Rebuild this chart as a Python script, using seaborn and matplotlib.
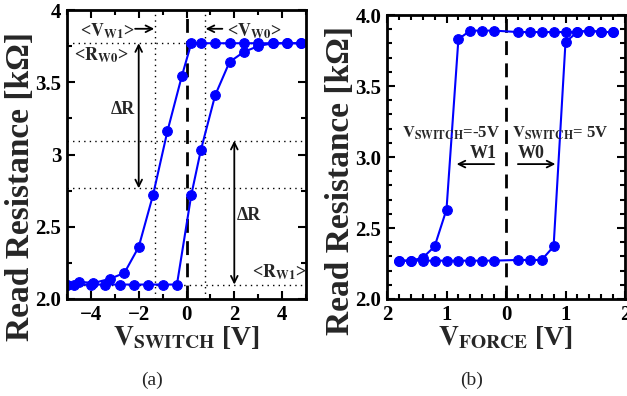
import numpy as np
import pandas as pd
import matplotlib
matplotlib.use("Agg")
import matplotlib.pyplot as plt
from matplotlib.ticker import MultipleLocator, FixedLocator, FixedFormatter, FuncFormatter
import seaborn as sns

# ---------------- data ----------------
# panel (a): read resistance vs switching voltage
a_w0_v = [-5.0, -4.7, -4.0, -3.4, -2.8, -2.2, -1.6, -1.0, -0.4, 0.2, 0.6, 1.2, 1.8, 2.4, 3.0, 3.6, 4.2, 4.8]
a_w0_r = [2.10, 2.10, 2.10, 2.10, 2.10, 2.10, 2.10, 2.10, 2.10, 2.72, 3.03, 3.41, 3.64, 3.71, 3.75, 3.77, 3.77, 3.77]
a_w1_v = [4.8, 4.2, 3.6, 3.0, 2.4, 1.8, 1.2, 0.6, 0.2, -0.2, -0.8, -1.4, -2.0, -2.6, -3.2, -3.9, -4.5, -5.0]
a_w1_r = [3.77, 3.77, 3.77, 3.77, 3.77, 3.77, 3.77, 3.77, 3.77, 3.54, 3.16, 2.72, 2.36, 2.18, 2.14, 2.11, 2.12, 2.10]

# reference levels in panel (a)
v_w1 = -1.3
v_w0 = 0.76
r_w0 = 3.77
r_w1 = 2.10
r_mid_hi = 3.095
r_mid_lo = 2.766

# panel (b): read resistance vs force voltage
b_s1_v = [1.8, 1.6, 1.4, 1.2, 1.0, 0.8, 0.6, 0.4, 0.2, -0.2, -0.4, -0.6, -0.8, -1.0, -1.2, -1.4, -1.6, -1.8]
b_s1_r = [3.88, 3.88, 3.89, 3.88, 3.88, 3.88, 3.88, 3.88, 3.88, 3.89, 3.89, 3.89, 3.83, 2.63, 2.37, 2.29, 2.27, 2.27]
b_s2_v = [-1.8, -1.6, -1.4, -1.2, -1.0, -0.8, -0.6, -0.4, -0.2, 0.2, 0.4, 0.6, 0.8, 1.0, 1.2, 1.4, 1.6, 1.8]
b_s2_r = [2.27, 2.27, 2.27, 2.27, 2.27, 2.27, 2.27, 2.27, 2.27, 2.275, 2.275, 2.275, 2.37, 3.81, 3.88, 3.89, 3.88, 3.88]

a_ytick_labels = ['2.0', '2.5', '3', '3.5', '4']

# ---------------- style ----------------
sns.set_style('ticks')
plt.rcParams['font.family'] = ['Liberation Serif', 'DejaVu Serif']
plt.rcParams['font.weight'] = 'bold'
plt.rcParams['mathtext.fontset'] = 'stix'

W, H = 627, 396
fig = plt.figure(figsize=(W / 100, H / 100), dpi=100)
axa = fig.add_axes([67 / W, 1 - 299 / H, 239 / W, 289 / H])
axb = fig.add_axes([387 / W, 1 - 299 / H, 238 / W, 284 / H])

blue = '#0000ff'
line_kw = dict(sort=False, estimator=None, color=blue, marker='o', markersize=7,
               markeredgecolor=blue, linewidth=1.5, legend=False)

def style_axes(ax):
    for s in ax.spines.values():
        s.set_linewidth(2)
        s.set_color('black')
    ax.tick_params(which='both', direction='in', top=True, right=True, width=1.5, colors='black')
    ax.tick_params(which='major', length=6, labelsize=15, pad=4)
    ax.tick_params(which='minor', length=3.5)
    for lab in ax.get_xticklabels() + ax.get_yticklabels():
        lab.set_fontweight('bold')

# ---------------- panel (a) ----------------
dfa0 = pd.DataFrame({'V': a_w0_v, 'R': a_w0_r})
dfa1 = pd.DataFrame({'V': a_w1_v, 'R': a_w1_r})
sns.lineplot(data=dfa0, x='V', y='R', ax=axa, **line_kw)
sns.lineplot(data=dfa1, x='V', y='R', ax=axa, **line_kw)

axa.set_xlim(-5, 5)
axa.set_ylim(2.0, 4.0)
axa.xaxis.set_major_locator(FixedLocator([-4, -2, 0, 2, 4]))
axa.xaxis.set_minor_locator(MultipleLocator(1))
axa.yaxis.set_major_locator(FixedLocator([2.0, 2.5, 3.0, 3.5, 4.0]))
axa.yaxis.set_major_formatter(FixedFormatter(a_ytick_labels))
axa.yaxis.set_minor_locator(MultipleLocator(0.25))

axa.axvline(0, color='black', lw=2, ls=(0, (5, 3)), zorder=1)
dot = dict(color='black', lw=1, ls=(0, (1, 3)), zorder=1)
axa.axvline(v_w1, **dot)
axa.axvline(v_w0, **dot)
for r in (r_w0, r_mid_hi, r_mid_lo, r_w1):
    axa.axhline(r, **dot)

arr = dict(arrowstyle='<->', color='black', lw=1.3, mutation_scale=12, shrinkA=0, shrinkB=0)
axa.annotate('', xy=(-2.0, r_w0), xytext=(-2.0, r_mid_lo), arrowprops=arr)
axa.annotate('', xy=(2.0, r_mid_hi), xytext=(2.0, r_w1), arrowprops=arr)
arr1 = dict(arrowstyle='->', color='black', lw=1.3, mutation_scale=12, shrinkA=0, shrinkB=0)
axa.annotate('', xy=(-1.35, 3.87), xytext=(-2.15, 3.87), arrowprops=arr1)
axa.annotate('', xy=(0.8, 3.87), xytext=(1.5, 3.87), arrowprops=arr1)

tk = dict(fontsize=13, fontweight='bold', ha='center', va='center')
axa.text(-3.33, 3.855, r'<$\mathbf{V_{W1}}$>', **tk)
axa.text(2.85, 3.855, r'<$\mathbf{V_{W0}}$>', **tk)
axa.text(-3.58, 3.685, r'<$\mathbf{R_{W0}}$>', **tk)
axa.text(3.87, 2.185, r'<$\mathbf{R_{W1}}$>', **tk)
axa.text(-2.65, 3.31, '\u0394R', **tk)
axa.text(2.61, 2.58, '\u0394R', **tk)

axa.set_xlabel(r'$\mathbf{V_{SWITCH}}$ [V]', fontsize=20, fontweight='bold', labelpad=0)
axa.set_ylabel('Read Resistance [k\u03A9]', fontsize=24, fontweight='bold')
axa.yaxis.set_label_coords(-0.128, 0.388)
style_axes(axa)

# ---------------- panel (b) ----------------
dfb1 = pd.DataFrame({'V': b_s1_v, 'R': b_s1_r})
dfb2 = pd.DataFrame({'V': b_s2_v, 'R': b_s2_r})
sns.lineplot(data=dfb1, x='V', y='R', ax=axb, **line_kw)
sns.lineplot(data=dfb2, x='V', y='R', ax=axb, **line_kw)

axb.set_xlim(-2, 2)
axb.set_ylim(2.0, 4.0)
axb.xaxis.set_major_locator(MultipleLocator(1))
axb.xaxis.set_minor_locator(MultipleLocator(0.2))
axb.xaxis.set_major_formatter(FuncFormatter(lambda v, p: f'{abs(v):g}'))
axb.yaxis.set_major_locator(MultipleLocator(0.5))
axb.yaxis.set_minor_locator(MultipleLocator(0.1))
axb.yaxis.set_major_formatter(FuncFormatter(lambda v, p: f'{v:.1f}'))

axb.axvline(0, color='black', lw=2, ls=(0, (5, 3)), zorder=1)
tb = dict(tk, fontsize=12)
axb.text(-0.92, 3.17, r'$\mathbf{V_{SWITCH}}$=-5V', **tb)
axb.text(0.92, 3.17, r'$\mathbf{V_{SWITCH}}$= 5V', **tb)
axb.text(-0.38, 3.025, 'W1', **tk)
axb.text(0.42, 3.025, 'W0', **tk)
axb.annotate('', xy=(-0.83, 2.95), xytext=(-0.2, 2.95), arrowprops=arr1)
axb.annotate('', xy=(0.83, 2.95), xytext=(0.2, 2.95), arrowprops=arr1)

axb.set_xlabel(r'$\mathbf{V_{FORCE}}$ [V]', fontsize=20, fontweight='bold', labelpad=0)
axb.set_ylabel('Read Resistance [k\u03A9]', fontsize=24, fontweight='bold')
axb.yaxis.set_label_coords(-0.13, 0.419)
style_axes(axb)

fig.text(152 / W, 1 - 380 / H, '(a)', fontsize=14, fontweight='normal', ha='center', va='center')
fig.text(472 / W, 1 - 380 / H, '(b)', fontsize=14, fontweight='normal', ha='center', va='center')

fig.savefig('out.png', dpi=100)
